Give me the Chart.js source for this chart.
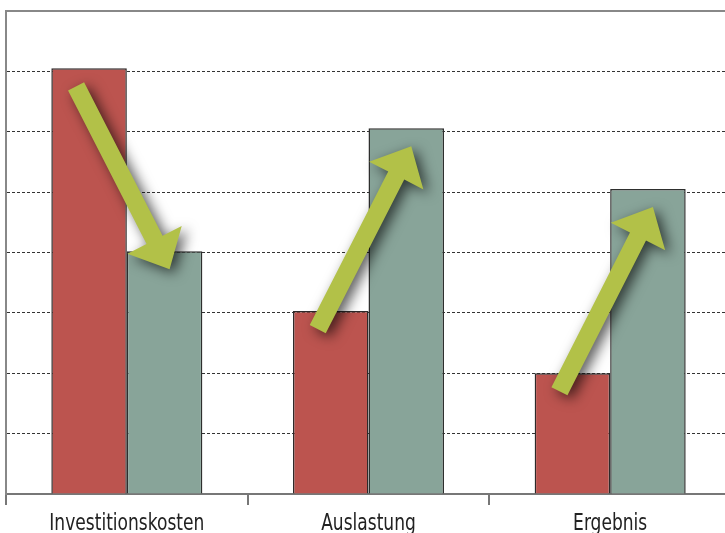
<!DOCTYPE html>
<html>
<head>
<meta charset="utf-8">
<script src="https://cdn.jsdelivr.net/npm/chart.js@4/dist/chart.umd.min.js"></script>
<style>
  html, body { margin: 0; padding: 0; background: #fff; overflow: hidden; }
  #wrap { width: 731px; height: 533px; }
</style>
</head>
<body>
<div id="wrap"><canvas id="myChart"></canvas></div>
<script>
// Daten
var categories = ['Investitionskosten', 'Auslastung', 'Ergebnis'];
var vorher = [7.05, 3.03, 2.0];
var nachher = [4.02, 6.06, 5.05];
var yMax = 8;

var labelFont = "'Liberation Sans Narrow', 'Arial Narrow', 'DejaVu Sans Condensed', sans-serif";

// Pfeile von "vorher" nach "nachher" mit Schatten
var arrowPlugin = {
    id: 'arrows',
    afterDatasetsDraw: function(chart){
        var ctx = chart.ctx;
        var red = chart.getDatasetMeta(0).data;
        var teal = chart.getDatasetMeta(1).data;
        for (var i = 0; i < red.length; i++) {
            var x0 = red[i].x - 13, y0 = red[i].y + 18;
            var x1 = teal[i].x + 5, y1 = teal[i].y + 18;
            drawArrow(ctx, x0, y0, x1, y1);
        }
    }
};

// schmale Achsenbeschriftung (horizontal gestaucht)
var labelPlugin = {
    id: 'narrowLabels',
    afterDraw: function(chart){
        var ctx = chart.ctx;
        var xs = chart.scales.x;
        ctx.save();
        ctx.font = "23px " + labelFont;
        ctx.fillStyle = '#222';
        ctx.textAlign = 'center';
        ctx.textBaseline = 'alphabetic';
        var sx = Math.min(1, 155 / ctx.measureText(categories[0]).width);
        for (var i = 0; i < categories.length; i++) {
            var x = xs.getPixelForTick(i);
            ctx.save();
            ctx.translate(x, chart.chartArea.bottom + 36);
            ctx.scale(sx, 1);
            ctx.fillText(categories[i], 0, 0);
            ctx.restore();
        }
        ctx.restore();
    }
};

function drawArrow(ctx, x0, y0, x1, y1) {
    var dx = x1 - x0, dy = y1 - y0;
    var len = Math.sqrt(dx*dx + dy*dy);
    var ux = dx/len, uy = dy/len;
    var px = -uy, py = ux;
    var shaft = 18 / 2, head = 61 / 2, headLen = 33;
    var bx = x1 - ux*headLen, by = y1 - uy*headLen;
    ctx.save();
    ctx.shadowColor = 'rgba(0,0,0,0.65)';
    ctx.shadowBlur = 13;
    ctx.shadowOffsetX = 5;
    ctx.shadowOffsetY = 4;
    ctx.fillStyle = '#b2c148';
    ctx.beginPath();
    ctx.moveTo(x0 + px*shaft, y0 + py*shaft);
    ctx.lineTo(bx + px*shaft, by + py*shaft);
    ctx.lineTo(bx + px*head, by + py*head);
    ctx.lineTo(x1, y1);
    ctx.lineTo(bx - px*head, by - py*head);
    ctx.lineTo(bx - px*shaft, by - py*shaft);
    ctx.lineTo(x0 - px*shaft, y0 - py*shaft);
    ctx.closePath();
    ctx.fill();
    ctx.restore();
}

var ctx = document.getElementById('myChart').getContext('2d');
var myChart = new Chart(ctx, {
    type: 'bar',
    data: {
        labels: categories,
        datasets: [{
            data: vorher,
            backgroundColor: '#bc544f',
            borderColor: '#2e2a2a',
            borderWidth: 1.5,
            barPercentage: 1,
            categoryPercentage: 0.625
        }, {
            data: nachher,
            backgroundColor: '#88a499',
            borderColor: '#2e2f2e',
            borderWidth: 1.5,
            barPercentage: 1,
            categoryPercentage: 0.625
        }]
    },
    options: {
        responsive: true,
        maintainAspectRatio: false,
        animation: false,
        layout: { padding: { left: 6, top: 11, right: 0, bottom: 28 } },
        plugins: { legend: { display: false }, tooltip: { enabled: false } },
        scales: {
            x: {
                grid: { drawOnChartArea: false, drawTicks: true, tickLength: 11, color: '#777', lineWidth: 2 },
                border: { color: '#777', width: 2 },
                ticks: { display: false }
            },
            y: {
                min: 0,
                max: yMax,
                ticks: { display: false, stepSize: 1 },
                grid: {
                    drawTicks: false,
                    color: function(c){ return (c.tick.value === 0) ? 'rgba(0,0,0,0)' : (c.tick.value === yMax ? '#888' : '#333'); },
                    lineWidth: function(c){ return c.tick.value === yMax ? 2 : 1; }
                },
                border: {
                    color: '#888', width: 2,
                    dash: function(c){ return (c.tick && c.tick.value === yMax) ? [] : [3, 2]; }
                }
            }
        }
    },
    plugins: [arrowPlugin, labelPlugin]
});
</script>
</body>
</html>
